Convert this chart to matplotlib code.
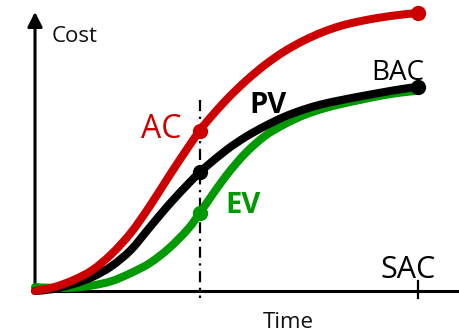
import numpy as np
import matplotlib
matplotlib.use("Agg")
import matplotlib.pyplot as plt
from matplotlib.path import Path
from matplotlib.patches import PathPatch

plt.rcParams['font.family'] = ['Open Sans', 'DejaVu Sans']

# ── S-curve data (time units, cost units) ─────────────────
T = [0, 0.5, 1, 1.5, 2, 2.5, 3, 3.5, 4, 4.3, 4.5, 5, 5.5, 6, 6.5, 7,
     7.5, 8, 8.5, 9, 9.5, 10]
AC = [0.0, 0.19, 0.53, 1.02, 1.80, 2.82, 4.13, 5.58, 6.98, 7.78, 8.25,
      9.29, 10.19, 10.97, 11.62, 12.14, 12.56, 12.88, 13.10, 13.27, 13.40, 13.50]
PV = [0.0, 0.10, 0.34, 0.68, 1.21, 1.99, 3.10, 4.20, 5.20, 5.76, 6.09,
      6.85, 7.48, 8.00, 8.45, 8.80, 9.07, 9.27, 9.45, 9.62, 9.78, 9.92]
EV = [0.19, 0.15, 0.16, 0.27, 0.48, 0.87, 1.36, 2.08, 3.02, 3.78, 4.32,
      5.62, 6.70, 7.52, 8.08, 8.52, 8.84, 9.08, 9.28, 9.47, 9.62, 9.72]

STATUS_DATE = 4.3   # data date (dash-dot line)
SAC = 10            # schedule at completion
STATUS_IDX = T.index(STATUS_DATE)

RED = "#cc0000"
GREEN = "#009900"


def smooth_path(xs, ys):
    """Catmull-Rom through the points, as cubic Bezier segments."""
    p = np.column_stack([xs, ys]).astype(float)
    p_ext = np.vstack([p[0], p, p[-1]])
    verts = [p[0]]
    codes = [Path.MOVETO]
    for i in range(len(p) - 1):
        p0, p1, p2, p3 = p_ext[i], p_ext[i + 1], p_ext[i + 2], p_ext[i + 3]
        verts += [p1 + (p2 - p0) / 6, p2 - (p3 - p1) / 6, p2]
        codes += [Path.CURVE4] * 3
    return Path(verts, codes)


fig = plt.figure(figsize=(4.59, 3.32), dpi=100)
ax = fig.add_axes([0, 0, 1, 1])
ax.set_xlim(-0.914, 11.07)
ax.set_ylim(-1.99, 14.126)
ax.axis("off")

# ── axes drawn by hand ────────────────────────────────────
ax.plot([0, 11.07], [0, 0], color="black", lw=2.2, solid_capstyle="butt", zorder=2)
ax.annotate("", xy=(0, 13.55), xytext=(0, -0.05),
            arrowprops=dict(arrowstyle="-|>", color="black", lw=2.2,
                            mutation_scale=22, shrinkA=0, shrinkB=0), zorder=2)
ax.plot([SAC, SAC], [0.49, -0.34], color="black", lw=1.6, zorder=2)
ax.plot([STATUS_DATE, STATUS_DATE], [9.27, -0.34], color="black", lw=1.6,
        dashes=[5, 2.5, 1, 2.5], zorder=2)

# ── curves ────────────────────────────────────────────────
for vals, col, z in [(EV, GREEN, 3), (PV, "black", 4), (AC, RED, 5)]:
    ax.add_patch(PathPatch(smooth_path(T, vals), fill=False, edgecolor=col,
                           lw=5.8, capstyle="round", joinstyle="round", zorder=z))
    ax.plot(T[STATUS_IDX], vals[STATUS_IDX], "o", color=col, ms=10, zorder=z)
ax.plot(T[-1], AC[-1], "o", color=RED, ms=10, zorder=5)
ax.plot(T[-1], PV[-1], "o", color="black", ms=10, zorder=4)

# ── labels ────────────────────────────────────────────────
ax.text(0.44, 12.09, "Cost", fontsize=16, color="#111111", va="baseline")
ax.text(6.6, -1.80, "Time", fontsize=16, color="#111111", va="baseline", ha="center")
ax.text(3.83, 7.43, "AC", fontsize=23, color=RED, va="baseline", ha="right")
ax.text(5.59, 8.64, "PV", fontsize=21, fontweight="bold", color="black", va="baseline")
ax.text(4.96, 3.79, "EV", fontsize=21, fontweight="bold", color=GREEN, va="baseline")
ax.text(9.48, 10.24, "BAC", fontsize=20, color="black", va="baseline", ha="center")
ax.text(9.75, 0.63, "SAC", fontsize=22, color="black", va="baseline", ha="center")

fig.savefig("out.png", dpi=100)
